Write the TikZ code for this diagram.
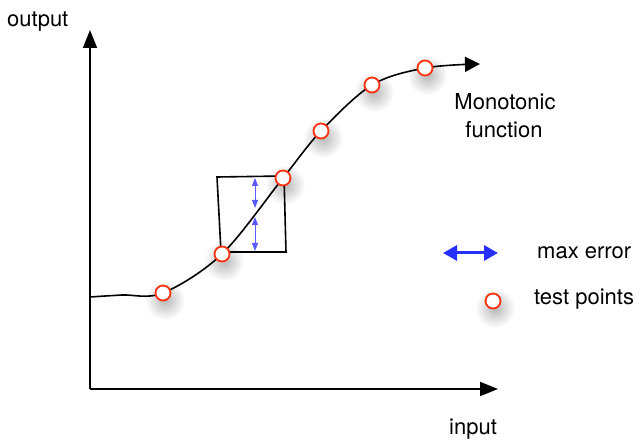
\documentclass[tikz,border=0pt]{standalone}
\usepackage{fontspec}
\setmainfont{TeX Gyre Heros}
\usetikzlibrary{arrows.meta}
\definecolor{ptred}{HTML}{FF3311}
\definecolor{errblue}{HTML}{2830FF}
\definecolor{errlight}{HTML}{5A5AFF}
\begin{document}
\begin{tikzpicture}[x=1pt,y=-1pt,
  lbl/.style={font=\fontsize{22}{26}\selectfont, inner sep=0pt},
  axis/.style={line width=1.8pt, -{Triangle[length=18pt,width=14pt]}},
  shade/.style={inner color=black!28, outer color=white, draw=none},
  testpt/.style={circle, draw=ptred, fill=white, line width=1.8pt, minimum size=15pt, inner sep=0pt},
  errarrow/.style={errlight, line width=0.9pt, {Triangle[length=8pt,width=6pt]}-{Triangle[length=8pt,width=6pt]}}]
  \useasboundingbox (0,0) rectangle (640,443);

  % axes
  \coordinate (origin) at (90,389);
  \coordinate (ytip) at (90,30);
  \coordinate (xtip) at (498,389);
  \draw[axis] (origin) -- (ytip);
  \draw[axis] (origin) -- (xtip);
  \node[lbl, anchor=base west] (outlbl) at (7,27) {output};
  \node[lbl, anchor=base west] (inlbl) at (449,435) {input};

  % sample positions along the function
  \coordinate (c0) at (90,297);
  \coordinate (c1) at (122,295);
  \coordinate (p1) at (163,293);
  \coordinate (p2) at (222,254);
  \coordinate (p3) at (283,178);
  \coordinate (p4) at (321,131);
  \coordinate (p5) at (372,85);
  \coordinate (p6) at (425,68);
  \coordinate (cend) at (480,64);

  % soft shadows under the test points
  \foreach \p in {p1,p2,p3,p4,p5,p6}
    \shade[shade] ([shift={(2,7)}]\p) circle (20);
  \shade[shade] (495,308) circle (20);

  % error box
  \draw[line width=1.6pt] (217,177) -- (284,176) -- (286,252) -- (221,252) -- cycle;

  % monotonic function
  \draw[line width=1.6pt, -{Triangle[length=15pt,width=15pt]}]
    plot[smooth, tension=0.55] coordinates {(c0) (c1) (p1) (p2) (p3) (p4) (p5) (p6) (cend)};

  % max error inside the box
  \coordinate (e1) at (255,178);
  \coordinate (e2) at (255,208);
  \coordinate (e3) at (255,217);
  \coordinate (e4) at (255,251);
  \draw[errarrow] (e1) -- (e2);
  \draw[errarrow] (e3) -- (e4);

  % test points
  \foreach \p in {p1,p2,p3,p4,p5,p6}
    \node[testpt] at (\p) {};

  \node[lbl, anchor=base] (mono) at (505,110) {Monotonic};
  \node[lbl, anchor=base] (func) at (504,138) {function};

  % legend
  \coordinate (la) at (443,253);
  \coordinate (lb) at (498,253);
  \draw[errblue, line width=3pt, {Triangle[length=14pt,width=15pt]}-{Triangle[length=14pt,width=15pt]}] (la) -- (lb);
  \node[lbl, anchor=base west] (maxerr) at (537,259) {max error};
  \node[testpt] (legpt) at (493,301) {};
  \node[lbl, anchor=base west] (tpts) at (534,305) {test points};
\end{tikzpicture}
\end{document}
